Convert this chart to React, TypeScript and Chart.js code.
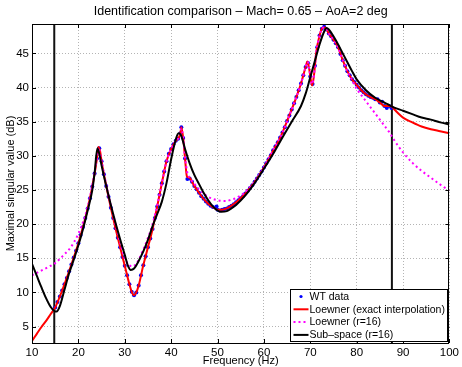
import React, { useEffect, useRef } from "react";
import { Chart, registerables } from "chart.js";

Chart.register(...registerables);

const TITLE = "Identification comparison – Mach= 0.65 – AoA=2 deg";
const X_LABEL = "Frequency (Hz)";
const Y_LABEL = "Maximal singular value (dB)";
const X_MIN = 10;
const X_MAX = 100;
const Y_MIN = 2.6;
const Y_MAX = 49.3;
const X_TICKS = [10, 20, 30, 40, 50, 60, 70, 80, 90, 100];
const Y_TICKS = [5, 10, 15, 20, 25, 30, 35, 40, 45];

const seriesNames = [
  "WT data",
  "Loewner (exact interpolation)",
  "Loewner (r=16)",
  "Sub–space (r=16)",
];

// frequency band limits (vertical black lines)
const boundFreqs = [14.8, 87.6];

// WT measured data
const wtFreq = [
  15, 15.5, 16, 16.5, 17, 17.5, 18, 18.5, 19, 19.5, 20, 20.5, 21, 21.5, 22, 22.5, 23, 23.5, 24, 24.5,
  25, 25.5, 26, 26.5, 27, 27.5, 28, 28.5, 29, 29.5, 30, 30.5, 31, 31.5, 32, 32.5, 33, 33.5, 34, 34.5,
  35, 35.5, 36, 36.5, 37, 37.5, 38, 38.5, 39, 39.5, 40, 40.5, 41, 41.5, 42, 42.2, 42.6, 43, 43.5, 44,
  44.5, 45, 45.5, 46, 46.5, 47, 47.5, 48, 48.5, 49, 49.8, 50, 50.5, 51, 51.5, 52, 52.5, 53, 53.5, 54,
  54.5, 55, 55.5, 56, 56.5, 57, 57.5, 58, 58.5, 59, 59.5, 60, 60.5, 61, 61.5, 62, 62.5, 63, 63.5, 64,
  64.5, 65, 65.5, 66, 66.5, 67, 67.5, 68, 68.5, 69, 69.5, 70, 70.5, 71, 71.5, 72, 72.5, 73, 73.5, 74,
  74.5, 75, 75.5, 76, 76.5, 77, 77.5, 78, 78.5, 79, 79.5, 80, 80.5, 81, 81.5, 82, 82.5, 83, 83.5, 84,
  84.5, 85, 85.5, 86, 86.5, 87, 87.5,
];
const wtDb = [
  7.8, 8.6, 9.4, 10.3, 11.2, 12.1, 13.1, 14.1, 15.1, 16.1, 17.2, 18.4, 19.6, 20.9, 22.3, 23.8, 25.5, 27.4, 29.6, 31.1,
  29.2, 27.3, 25.6, 24.0, 22.4, 20.9, 19.4, 18.0, 16.6, 15.2, 13.9, 12.5, 11.2, 10.1, 9.6, 10.0, 11.0, 12.5, 14.0, 15.3,
  16.6, 17.9, 19.3, 20.9, 22.6, 24.3, 26.0, 27.7, 29.2, 30.3, 31.0, 31.7, 32.2, 32.5, 33.3, 34.2, 32.6, 29.6, 26.6, 26.7,
  26.2, 25.6, 25.1, 24.6, 24.1, 23.7, 23.3, 23.0, 22.7, 22.5, 22.6, 22.1, 22.0, 22.1, 22.2, 22.3, 22.5, 22.7, 22.9, 23.2,
  23.5, 23.8, 24.1, 24.5, 24.9, 25.3, 25.7, 26.2, 26.7, 27.2, 27.7, 28.3, 28.9, 29.5, 30.1, 30.8, 31.4, 32.0, 32.7, 33.4,
  34.2, 35.1, 35.9, 36.8, 37.7, 38.6, 39.6, 40.6, 41.8, 43.0, 43.6, 41.6, 40.5, 43.2, 45.9, 47.6, 48.6, 48.9, 48.5, 47.9,
  47.5, 47.0, 46.5, 45.9, 44.9, 44.0, 43.2, 42.4, 41.8, 41.2, 40.8, 40.4, 40.0, 39.6, 39.3, 39.0, 38.8, 38.6, 38.5, 38.3,
  38.3, 37.8, 37.9, 37.3, 37.0, 37.3, 37.0,
];

// Loewner (exact interpolation)
const loewFreq = [
  10, 11, 12, 13, 14, 15, 16, 17, 18, 19, 20, 21, 22, 23, 24, 24.3, 24.7, 25, 26, 27, 28, 29, 30, 31, 31.5, 31.9,
  32.4, 33, 34, 35, 36, 37, 38, 39, 40, 41, 41.6, 42, 42.2, 42.6, 43, 43.4, 44, 44.5, 45, 46, 47, 48, 49, 50, 51,
  52, 53, 54, 55, 56, 57, 58, 59, 60, 61, 62, 63, 64, 65, 66, 67, 68, 69, 69.4, 69.8, 70.4, 70.8, 71.3, 72, 72.6,
  73.2, 74, 75, 76, 77, 78, 79, 80, 81, 82, 83, 84, 85, 86, 87, 87.6, 88, 89, 90, 92, 94, 96, 98, 100,
];
const loewDb = [
  2.9, 3.9, 4.9, 5.8, 6.8, 7.8, 9.4, 11.2, 13.1, 15.1, 17.2, 19.6, 22.3, 25.5, 29.6, 31.3, 30.6, 29.2, 25.6, 22.4,
  19.4, 16.6, 13.9, 11.2, 10.1, 9.6, 9.9, 11.0, 14.0, 16.6, 19.3, 22.6, 26.0, 29.2, 31.0, 32.2, 32.6, 33.3, 34.2,
  32.6, 29.6, 27.0, 26.8, 26.2, 25.6, 24.6, 23.7, 23.0, 22.5, 22.1, 22.1, 22.3, 22.7, 23.2, 23.8, 24.5, 25.3, 26.2,
  27.2, 28.3, 29.5, 30.8, 32.0, 33.4, 35.1, 36.8, 38.6, 40.6, 43.0, 43.8, 42.6, 40.3, 41.8, 45.2, 47.6, 48.7, 48.8,
  47.9, 47.0, 45.9, 44.0, 42.4, 41.2, 40.4, 39.6, 39.0, 38.6, 38.3, 37.8, 37.3, 37.3, 37.2, 36.9, 36.2, 35.6, 34.9,
  34.3, 33.9, 33.6, 33.3,
];

// Loewner (r=16)
const redFreq = [
  10, 12, 14, 15, 16, 17, 18, 19, 20, 21, 22, 23, 24, 24.3, 25, 26, 27, 28, 29, 30, 31, 31.6, 32.5, 33, 34, 35, 36,
  37, 38, 39, 40, 41, 41.6, 42, 42.2, 42.6, 43, 43.5, 44, 45, 46, 47, 48, 49, 50, 51, 52, 53, 54, 55, 56, 57, 58,
  59, 60, 62, 64, 66, 68, 69, 69.4, 69.8, 70.4, 70.8, 71.3, 72, 72.6, 73.2, 74, 75, 76, 77, 78, 79, 80, 81, 82, 83,
  84, 85, 86, 87, 88, 89, 90, 92, 94, 96, 98, 100,
];
const redDb = [
  12.5, 13.2, 13.9, 14.3, 14.9, 15.6, 16.3, 17.3, 18.6, 20.3, 22.5, 25.7, 29.7, 31.2, 29.2, 25.8, 22.8, 20.0, 17.3,
  15.0, 14.0, 13.8, 14.2, 14.8, 16.3, 18.0, 20.0, 22.8, 26.0, 29.2, 31.0, 32.2, 32.6, 33.3, 34.0, 32.6, 29.8, 27.5,
  26.8, 25.9, 25.1, 24.5, 24.0, 23.7, 23.5, 23.4, 23.4, 23.6, 23.8, 24.2, 24.7, 25.4, 26.2, 27.2, 28.3, 30.8, 33.4,
  36.8, 40.6, 43.0, 43.8, 42.6, 40.5, 41.8, 45.2, 47.6, 48.7, 48.8, 47.9, 47.0, 45.9, 44.0, 42.4, 41.1, 39.8, 38.9,
  38.0, 37.1, 36.2, 35.3, 34.4, 33.5, 32.4, 31.4, 30.5, 29.0, 27.8, 26.8, 25.8, 24.9,
];

// Sub-space (r=16)
const subFreq = [
  10, 11, 12, 13, 14, 14.8, 15.3, 16, 17, 18, 19, 20, 21, 22, 23, 23.5, 24.1, 24.6, 25, 26, 27, 28, 29, 30, 30.7,
  31.3, 32, 33, 34, 35, 36, 37, 38, 39, 40, 41, 41.6, 42.2, 43, 44, 45, 46, 47, 48, 49, 50, 50.8, 52, 53, 54, 56,
  58, 60, 62, 64, 66, 68, 69, 70, 71, 72, 73, 73.5, 74, 75, 76, 77, 78, 79, 80, 82, 84, 86, 88, 90, 92, 94, 96, 98,
  100,
];
const subDb = [
  14.2, 12.5, 10.8, 9.2, 7.9, 7.3, 7.2, 8.0, 10.4, 12.8, 14.8, 16.9, 19.3, 22.0, 25.0, 27.5, 31.1, 30.0, 28.6, 25.6,
  22.8, 20.2, 17.8, 15.5, 13.9, 13.3, 13.5, 14.6, 16.0, 17.7, 19.7, 21.5, 23.3, 26.0, 29.5, 32.4, 33.3, 32.9, 31.0,
  28.9, 27.2, 25.9, 24.6, 23.5, 22.6, 22.0, 21.8, 21.9, 22.3, 22.8, 24.2, 26.0, 28.1, 30.3, 32.7, 35.0, 37.3, 39.1,
  41.5, 43.9, 46.3, 48.2, 48.7, 48.5, 47.5, 46.3, 45.0, 43.7, 42.4, 41.2, 39.6, 38.5, 37.8, 37.1, 36.6, 36.1, 35.6,
  35.3, 34.9, 34.6,
];

const FONT = "'Liberation Sans', Arial, Helvetica, sans-serif";
const BLUE = "#0000ff";
const RED = "#ff0000";
const MAGENTA = "#ff00ff";
const BLACK = "#000000";

const xy = (fs: number[], vs: number[]) => fs.map((f, i) => ({ x: f, y: vs[i] }));

const framePlugin = {
  id: "frame",
  afterDraw(chart: any) {
    const { ctx, chartArea, scales } = chart;
    const { left, right, top, bottom } = chartArea;
    ctx.save();
    // title
    ctx.fillStyle = "#000";
    ctx.font = `12.5px ${FONT}`;
    ctx.textAlign = "center";
    ctx.textBaseline = "middle";
    ctx.fillText(TITLE, (left + right) / 2, 12);
    // box
    ctx.strokeStyle = "#000";
    ctx.lineWidth = 1;
    ctx.strokeRect(Math.round(left) + 0.5, Math.round(top) + 0.5, Math.round(right - left) - 1, Math.round(bottom - top));
    // inward ticks
    const tl = 4;
    ctx.beginPath();
    X_TICKS.forEach((v) => {
      const px = Math.round(scales.x.getPixelForValue(v)) + 0.5;
      ctx.moveTo(px, bottom);
      ctx.lineTo(px, bottom - tl);
      ctx.moveTo(px, top);
      ctx.lineTo(px, top + tl);
    });
    Y_TICKS.forEach((v) => {
      const py = Math.round(scales.y.getPixelForValue(v)) + 0.5;
      ctx.moveTo(left, py);
      ctx.lineTo(left + tl, py);
      ctx.moveTo(right, py);
      ctx.lineTo(right - tl, py);
    });
    ctx.stroke();

    // legend
    const w = 157;
    const h = 52;
    const lx = Math.round(right) - 2 - w + 0.5;
    const ly = Math.round(bottom) - 2 - h + 0.5;
    ctx.fillStyle = "#fff";
    ctx.fillRect(lx, ly, w, h);
    ctx.strokeStyle = "#000";
    ctx.lineWidth = 1;
    ctx.strokeRect(lx, ly, w, h);
    const rowH = 12.8;
    const sx0 = lx + 3;
    const sx1 = lx + 18;
    ctx.font = `10.5px ${FONT}`;
    ctx.textAlign = "left";
    ctx.textBaseline = "middle";
    seriesNames.forEach((name, i) => {
      const cy = ly + 7 + i * rowH;
      ctx.save();
      if (i === 0) {
        ctx.fillStyle = BLUE;
        ctx.beginPath();
        ctx.arc((sx0 + sx1) / 2, cy, 1.6, 0, Math.PI * 2);
        ctx.fill();
      } else {
        ctx.strokeStyle = i === 1 ? RED : i === 2 ? MAGENTA : BLACK;
        ctx.lineWidth = 2;
        if (i === 2) ctx.setLineDash([2, 3]);
        ctx.beginPath();
        ctx.moveTo(sx0, cy);
        ctx.lineTo(sx1, cy);
        ctx.stroke();
      }
      ctx.restore();
      ctx.fillStyle = "#000";
      ctx.fillText(name, sx1 + 1, cy + 0.5);
    });
    ctx.restore();
  },
};

export default function App() {
  const ref = useRef<HTMLCanvasElement>(null);
  useEffect(() => {
    if (!ref.current) return;
    const lineCommon = {
      pointRadius: 0,
      borderWidth: 2,
      fill: false,
      cubicInterpolationMode: "monotone" as const,
    };
    const chart = new Chart(ref.current, {
      type: "line",
      data: {
        datasets: [
          { ...lineCommon, label: seriesNames[3], data: xy(subFreq, subDb), borderColor: BLACK, order: 0 },
          { ...lineCommon, label: seriesNames[2], data: xy(redFreq, redDb), borderColor: MAGENTA, borderDash: [2, 3], order: 1 },
          { ...lineCommon, label: seriesNames[1], data: xy(loewFreq, loewDb), borderColor: RED, order: 2 },
          {
            label: seriesNames[0],
            data: xy(wtFreq, wtDb),
            showLine: false,
            pointRadius: 2,
            pointBorderWidth: 0,
            pointBackgroundColor: BLUE,
            pointBorderColor: BLUE,
            order: 3,
          },
          ...boundFreqs.map((f) => ({
            label: "bound",
            data: [
              { x: f, y: Y_MIN },
              { x: f, y: Y_MAX },
            ],
            borderColor: "#111",
            borderWidth: 2,
            pointRadius: 0,
            order: 4,
          })),
        ],
      },
      options: {
        animation: false,
        responsive: false,
        devicePixelRatio: 1,
        layout: { padding: { top: 24, right: 10, left: 0, bottom: 0 } },
        plugins: { legend: { display: false }, tooltip: { enabled: false }, title: { display: false } },
        scales: {
          x: {
            type: "linear",
            min: X_MIN,
            max: X_MAX,
            afterBuildTicks: (s: any) => {
              s.ticks = X_TICKS.map((v) => ({ value: v }));
            },
            ticks: {
              autoSkip: false,
              maxRotation: 0,
              padding: 3,
              color: "#000",
              font: { family: FONT, size: 11.5 },
            },
            grid: { color: "#b4b4b4", drawTicks: false, lineWidth: 1 },
            border: { display: false, dash: [1, 2] },
            title: {
              display: true,
              text: X_LABEL,
              color: "#000",
              font: { family: FONT, size: 11 },
              padding: { top: 0, bottom: -1 },
            },
            afterFit: (s: any) => {
              s.height = 24;
            },
          },
          y: {
            type: "linear",
            min: Y_MIN,
            max: Y_MAX,
            afterBuildTicks: (s: any) => {
              s.ticks = Y_TICKS.map((v) => ({ value: v }));
            },
            ticks: {
              autoSkip: false,
              padding: 3,
              color: "#000",
              font: { family: FONT, size: 11.5 },
            },
            grid: { color: "#b4b4b4", drawTicks: false, lineWidth: 1 },
            border: { display: false, dash: [1, 2] },
            title: {
              display: true,
              text: Y_LABEL,
              color: "#000",
              font: { family: FONT, size: 11 },
              padding: { top: 4, bottom: 0 },
            },
            afterFit: (s: any) => {
              s.width = 32;
            },
          },
        },
      },
      plugins: [framePlugin],
    });
    return () => chart.destroy();
  }, []);
  return (
    <div style={{ position: "absolute", left: 0, top: 0, width: 462, height: 367, background: "#fff" }}>
      <canvas ref={ref} width={462} height={367} style={{ display: "block" }} />
    </div>
  );
}
